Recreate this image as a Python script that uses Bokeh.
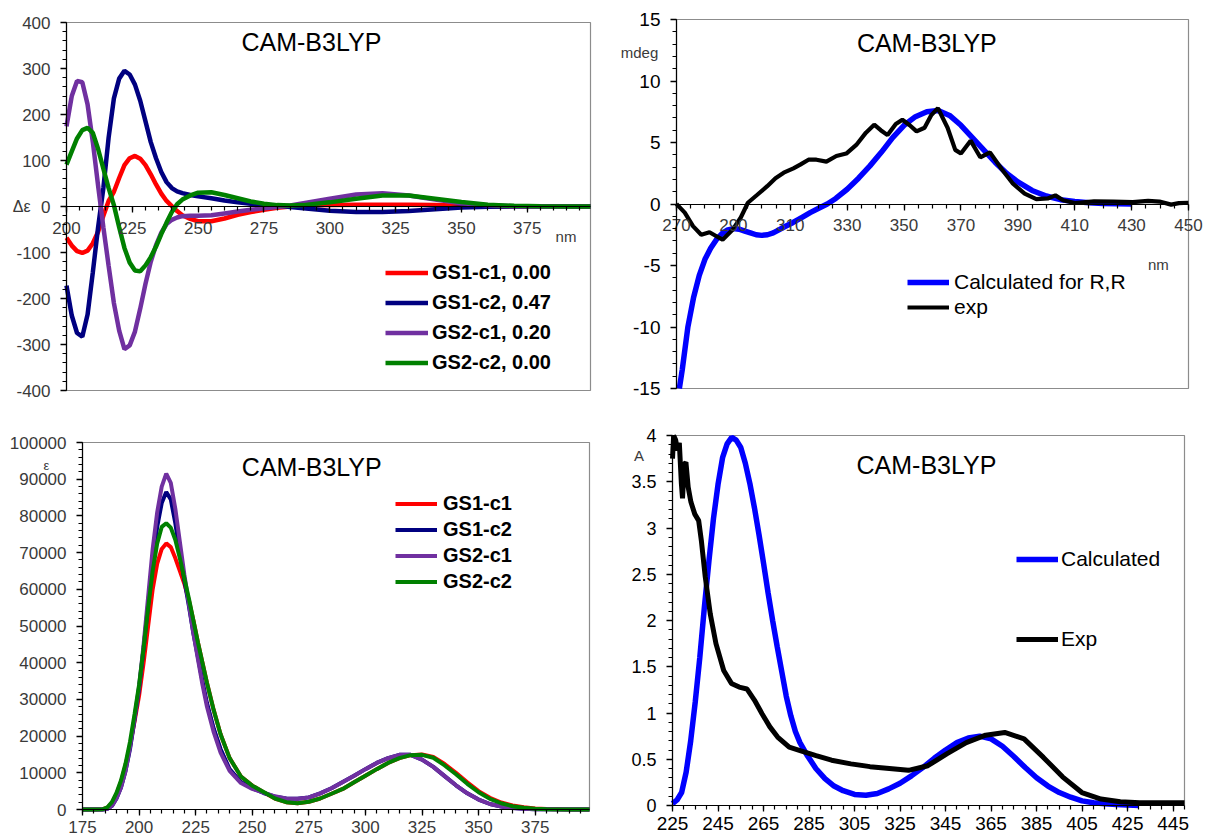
from bokeh.plotting import figure
from bokeh.models import (Range1d, FixedTicker, SingleIntervalTicker, NumeralTickFormatter,
                          Label, Legend, LegendItem)
from bokeh.core.properties import value
from bokeh.layouts import column, row
from bokeh.embed import file_html
from bokeh.resources import INLINE

FONT = "Liberation Sans"

# ---------------- top-left: calculated ECD (delta epsilon) ----------------
TL_XLIM, TL_YLIM = (200, 399), (-400, 400)
TL_NM = [200, 202, 204, 206, 208, 210, 212, 214, 216, 218, 220, 222, 224, 226, 228, 230,
         232, 234, 236, 238, 240, 242, 244, 247, 250, 255, 260, 265, 270, 275, 280, 285,
         290, 300, 310, 320, 330, 340, 350, 360, 370, 380, 390, 399]
TL_GS1_C1 = [-68, -85, -97, -101, -96, -80, -55, -20, 12, 32, 62, 90, 105, 110, 104, 90,
             70, 48, 28, 12, 1, -10, -19, -27, -32, -32, -26, -18, -12, -7, -3, 0,
             2, 3, 4, 4, 4, 3, 1.5, 0.5, 0, 0, 0, 0]
TL_GS1_C2 = [-172, -237, -275, -283, -235, -143, -45, 40, 150, 235, 278, 295, 287, 265, 230, 185,
             140, 105, 75, 53, 40, 33, 29, 25, 22, 18, 13, 9, 6, 4, 1.5, -1,
             -4, -9, -12, -12, -10, -6, -2, -0.5, 0, 0, 0, 0]
TL_GS2_C1 = [174, 240, 273, 270, 222, 140, 45, -45, -129, -210, -270, -310, -302, -272, -222, -168,
             -120, -84, -57, -38, -29, -24, -21, -20, -20, -19, -15, -11, -7, -4, -1, 2,
             7, 17, 26, 29, 24, 15, 7, 2.5, 0.8, 0.2, 0, 0]
TL_GS2_C2 = [91, 120, 148, 166, 171, 160, 125, 82, 40, 3, -45, -90, -122, -139, -141, -128,
             -110, -87, -60, -35, -12, 5, 15, 24, 30, 31, 25, 18, 11, 6, 3, 2,
             3, 9, 17, 24, 24, 17, 10, 4, 1.5, 0.5, 0, 0]
TL_LABELS = ["GS1-c1, 0.00", "GS1-c2, 0.47", "GS2-c1, 0.20", "GS2-c2, 0.00"]
TL_X_STEP, TL_Y_STEP = 25, 100

# ---------------- top-right: ECD calculated vs experimental (mdeg) ----------------
TR_XLIM, TR_YLIM = (270, 450), (-15, 15)
TR_CALC_NM = [271, 272, 274, 276, 278, 280, 282, 284, 286, 288, 290, 292, 294, 296, 298, 300,
              302, 304, 306, 308, 311, 314, 317, 320, 323, 326, 330, 334, 338, 342, 346, 350,
              354, 358, 362, 366, 370, 374, 378, 382, 386, 390, 395, 400, 405, 410, 415, 420, 430]
TR_CALC = [-15.0, -13.5, -10.0, -7.6, -5.8, -4.5, -3.6, -2.9, -2.4, -2.1, -2.0, -2.05, -2.2, -2.35, -2.5, -2.55,
           -2.5, -2.35, -2.1, -1.85, -1.5, -1.1, -0.7, -0.35, 0.0, 0.45, 1.2, 2.1, 3.1, 4.2, 5.4, 6.4,
           7.1, 7.5, 7.6, 7.2, 6.4, 5.4, 4.4, 3.4, 2.5, 1.8, 1.1, 0.65, 0.35, 0.2, 0.1, 0.05, 0.0]
TR_EXP_NM = [270, 272.9, 275.8, 278.7, 281.6, 283.9, 286.2, 289.7, 292.6, 295.1, 298.4, 301.9, 304.8,
             307.7, 311.1, 313.5, 316.4, 319.2, 322.7, 326.2, 329.7, 333.2, 336.6, 339.5, 341.8, 344.2,
             347.1, 349.4, 352, 354.4, 357.2, 359.5, 361.9, 365.3, 368, 370, 373.4, 376.8, 380.2, 384.3,
             388.3, 392.4, 396.5, 400.5, 403.2, 405.9, 410, 416.8, 423.6, 430.4, 435.8, 439.8, 443.9,
             446.6, 450]
TR_EXP = [0, -0.7, -1.8, -2.5, -2.3, -2.6, -2.9, -2.1, -1.1, 0.1, 0.75, 1.45, 2.1,
          2.55, 2.9, 3.2, 3.6, 3.6, 3.45, 3.9, 4.1, 4.8, 5.8, 6.45, 6.0, 5.6,
          6.5, 6.85, 6.4, 5.9, 6.2, 7.2, 7.8, 6.2, 4.4, 4.1, 5.15, 3.8, 4.2, 2.85,
          1.65, 0.85, 0.4, 0.45, 0.7, 0.3, 0.08, 0.22, 0.2, 0.15, 0.25, 0.2, -0.05,
          0.07, 0.1]
TR_LABELS = ["Calculated for R,R", "exp"]
TR_X_TICKS = [270, 290, 310, 330, 350, 370, 390, 410, 430, 450]
TR_Y_STEP = 5

# ---------------- bottom-left: calculated UV (epsilon) ----------------
BL_XLIM, BL_YLIM = (175, 399), (0, 100000)
BL_NM = [175, 180, 184, 186, 188, 190, 192, 194, 196, 198, 200, 202, 204, 206, 208, 210,
         212, 214, 216, 218, 220, 222, 224, 226, 228, 230, 233, 236, 240, 245, 250, 255,
         260, 265, 270, 275, 280, 285, 290, 295, 300, 305, 310, 315, 320, 325, 330, 335,
         340, 345, 350, 355, 360, 365, 370, 375, 380, 390, 399]
BL_GS1_C1 = [0, 0, 100, 500, 1800, 4200, 7500, 12000, 17500, 24000, 31000, 40000, 50000, 60000, 67000, 71000,
             72500, 71500, 68500, 65000, 61500, 57000, 51500, 45500, 40000, 34500, 27000, 20500, 14000, 9000, 6500, 4700,
             3000, 2000, 1700, 2100, 3000, 4300, 5600, 7400, 9200, 11000, 12700, 14000, 14800, 15000, 14300, 12400,
             10000, 7400, 5000, 3200, 1900, 1100, 600, 300, 150, 30, 0]
BL_GS1_C2 = [0, 0, 0, 200, 1000, 3000, 6000, 10500, 16500, 24500, 33000, 44000, 56000, 68000, 77000, 83500,
             86500, 84500, 78000, 70000, 62500, 55500, 48000, 41500, 35000, 29000, 22000, 16500, 11000, 7500, 5800, 4500,
             3500, 3000, 2900, 3300, 4400, 5800, 7500, 9200, 11000, 12700, 14000, 14900, 14900, 13600, 11600, 9100,
             6600, 4400, 2700, 1500, 800, 400, 200, 100, 50, 0, 0]
BL_GS2_C1 = [0, 0, 0, 200, 1000, 3000, 6000, 10500, 17000, 25000, 33500, 45000, 58000, 71000, 81000, 88000,
             91500, 89000, 82000, 73000, 64000, 56000, 48000, 41000, 34000, 28000, 21000, 15500, 10500, 7200, 5600, 4600,
             3600, 3000, 2900, 3300, 4400, 5800, 7500, 9200, 11000, 12700, 14000, 14900, 14900, 13600, 11600, 9100,
             6600, 4400, 2700, 1500, 800, 400, 200, 100, 50, 0, 0]
BL_GS2_C2 = [0, 0, 100, 600, 2000, 4500, 7900, 12500, 18500, 26000, 34000, 44000, 55000, 65000, 72500, 77000,
             78000, 76800, 73500, 68500, 63000, 57500, 51500, 45500, 40000, 34500, 27000, 20500, 14000, 9000, 6500, 4800,
             3000, 2000, 1700, 2100, 3000, 4300, 5600, 7400, 9200, 11000, 12700, 14000, 14800, 14900, 14100, 12000,
             9600, 7000, 4700, 2900, 1700, 900, 450, 200, 100, 20, 0]
BL_LABELS = ["GS1-c1", "GS1-c2", "GS2-c1", "GS2-c2"]
BL_X_STEP, BL_Y_STEP = 25, 10000

# ---------------- bottom-right: UV calculated vs experimental (A) ----------------
BR_XLIM, BR_YLIM = (225, 450), (0, 4)
BR_CALC_NM = [225, 227, 229, 231, 233, 235, 237, 239, 241, 243, 245, 247, 249, 251, 253, 255,
              257, 259, 261, 263, 265, 267, 269, 271, 273, 275, 277, 279, 281, 284, 288, 292,
              296, 300, 305, 310, 315, 320, 325, 330, 335, 340, 345, 350, 355, 360, 365, 370,
              375, 380, 385, 390, 395, 400, 405, 410, 415, 420, 430]
BR_CALC = [0.02, 0.06, 0.14, 0.36, 0.70, 1.12, 1.60, 2.14, 2.64, 3.10, 3.47, 3.76, 3.91, 3.98, 3.95, 3.87,
           3.70, 3.48, 3.22, 2.93, 2.62, 2.30, 2.00, 1.72, 1.45, 1.18, 0.97, 0.80, 0.68, 0.55, 0.40, 0.29,
           0.21, 0.16, 0.12, 0.11, 0.13, 0.18, 0.24, 0.32, 0.41, 0.51, 0.60, 0.68, 0.73, 0.75, 0.72, 0.64,
           0.53, 0.41, 0.30, 0.21, 0.14, 0.09, 0.05, 0.03, 0.02, 0.01, 0.0]
BR_EXP_NM = [225, 225.5, 226.4, 227.2, 228, 228.9, 229.4, 230.2, 230.9, 231.9, 233.1, 234.8, 236.5,
             237.7, 239.4, 241.6, 244.1, 247.5, 250.9, 254.3, 257.7, 261, 264.4, 267.8, 271.2, 276.3,
             281.4, 288.1, 294.9, 303.4, 311.8, 320.3, 328.7, 337.2, 345.7, 354.1, 362.6, 371, 379.5,
             388, 396.4, 404.9, 413.3, 421.8, 430.3, 450]
BR_EXP = [3.75, 4.0, 3.95, 3.84, 3.92, 3.48, 3.32, 3.69, 3.71, 3.44, 3.28, 3.15, 3.08,
          2.86, 2.47, 2.07, 1.75, 1.46, 1.32, 1.28, 1.26, 1.14, 0.99, 0.85, 0.74, 0.63,
          0.59, 0.54, 0.49, 0.45, 0.42, 0.40, 0.38, 0.43, 0.56, 0.68, 0.76, 0.79, 0.72,
          0.52, 0.31, 0.14, 0.07, 0.04, 0.03, 0.03]
BR_LABELS = ["Calculated", "Exp"]
BR_X_TICKS = [225, 245, 265, 285, 305, 325, 345, 365, 385, 405, 425, 445]
BR_Y_STEP = 0.5

TITLE = "CAM-B3LYP"
C_RED, C_NAVY, C_PURPLE, C_GREEN = "#FF0000", "#000080", "#7030A0", "#008000"
C_BLUE, C_BLACK = "#0000FF", "#000000"
LABEL_GREY = "#3a3a3a"


def make_fig(w, h, xlim, ylim, box):
    """Figure whose frame fills the whole canvas; box = plot-area (left, right, top, bottom) in px."""
    L, R, T, B = box
    sx = (R - L) / (xlim[1] - xlim[0])
    sy = (B - T) / (ylim[1] - ylim[0])
    xr = Range1d(xlim[0] - L / sx, xlim[1] + (w - R) / sx)
    yr = Range1d(ylim[0] - (h - B) / sy, ylim[1] + T / sy)
    p = figure(width=w, height=h, x_range=xr, y_range=yr,
               output_backend="svg", toolbar_location=None,
               min_border=0, min_border_left=0, min_border_right=0,
               min_border_top=0, min_border_bottom=0)
    p.grid.visible = False
    p.outline_line_alpha = 0
    p.background_fill_color = "white"
    p.border_fill_color = "white"
    # plot-area border (Excel style grey frame)
    p.quad(left=[xlim[0]], right=[xlim[1]], bottom=[ylim[0]], top=[ylim[1]],
           fill_alpha=0, line_color="#8c8c8c", line_width=1.2)
    for ax in (p.xaxis[0], p.yaxis[0]):
        ax.axis_line_color = "black"
        ax.axis_line_width = 1.2
        ax.major_tick_line_color = "black"
        ax.minor_tick_line_color = "black"
        ax.major_tick_line_width = 1.3
        ax.minor_tick_line_width = 1.2
        ax.major_tick_in = 0
        ax.minor_tick_in = 0
        ax.major_tick_out = 6
        ax.minor_tick_out = 4
        ax.major_label_text_font = FONT
    p.yaxis.fixed_location = xlim[0]
    p.yaxis.bounds = ylim
    p.xaxis.fixed_location = 0
    p.xaxis.bounds = xlim
    return p


def style_axes(p, xticker, yticker, xfmt, yfmt, xsize, ysize, xcolor, ycolor, xstand, ystand):
    p.xaxis.ticker = xticker
    p.yaxis.ticker = yticker
    p.xaxis.formatter = NumeralTickFormatter(format=xfmt)
    p.yaxis.formatter = NumeralTickFormatter(format=yfmt)
    p.xaxis.major_label_text_font_size = xsize
    p.yaxis.major_label_text_font_size = ysize
    p.xaxis.major_label_text_color = xcolor
    p.yaxis.major_label_text_color = ycolor
    p.xaxis.major_label_standoff = xstand
    p.yaxis.major_label_standoff = ystand


def label(p, x, y, text, size, color="black", align="center"):
    p.add_layout(Label(x=x, y=y, text=text, text_font=FONT, text_font_size=size,
                       text_color=color, text_align=align, text_baseline="middle"))


def legend(p, renderers, labels, loc, gw, gh, sp, standoff, size, style):
    items = [LegendItem(label=value(t), renderers=[r]) for t, r in zip(labels, renderers)]
    lg = Legend(items=items, location=loc, orientation="vertical", glyph_width=gw,
                glyph_height=gh, label_height=gh, spacing=sp, label_standoff=standoff,
                padding=0, margin=0, border_line_alpha=0, background_fill_alpha=0,
                label_text_font=FONT, label_text_font_size=size,
                label_text_font_style=style, label_text_color="black")
    p.add_layout(lg)


# ---- top-left ----
p1 = make_fig(603, 420, TL_XLIM, TL_YLIM, (66, 590, 22, 390))
style_axes(p1, SingleIntervalTicker(interval=TL_X_STEP, num_minor_ticks=5),
           SingleIntervalTicker(interval=TL_Y_STEP, num_minor_ticks=5),
           "0", "0", "17px", "17px", LABEL_GREY, LABEL_GREY, 9, 10)
r = []
for ys, c in zip([TL_GS1_C1, TL_GS1_C2, TL_GS2_C1, TL_GS2_C2], [C_RED, C_NAVY, C_PURPLE, C_GREEN]):
    r.append(p1.line(TL_NM, ys, line_color=c, line_width=4.5))
legend(p1, r, TL_LABELS, (385, 46), 43, 23, 7, 4, "20px", "bold")
label(p1, 293, 358, TITLE, "25px")
label(p1, 389.7, -66, "nm", "15px", LABEL_GREY)
label(p1, 183, 0, "Δε", "16px", LABEL_GREY)

# ---- top-right ----
p2 = make_fig(604, 420, TR_XLIM, TR_YLIM, (73, 585, 19, 388))
style_axes(p2, FixedTicker(ticks=TR_X_TICKS, minor_ticks=list(range(270, 451, 5))),
           SingleIntervalTicker(interval=TR_Y_STEP, num_minor_ticks=5),
           "0", "0", "17px", "19px", LABEL_GREY, "black", 9, 10)
rb = p2.line(TR_CALC_NM, TR_CALC, line_color=C_BLUE, line_width=5.5)
rk = p2.line(TR_EXP_NM, TR_EXP, line_color=C_BLACK, line_width=4.2)
legend(p2, [rb, rk], TR_LABELS, (304, 101), 42, 24, 1, 5, "21px", "normal")
label(p2, 358, 13.13, TITLE, "25px")
label(p2, 257, 12.3, "mdeg", "15px", LABEL_GREY)
label(p2, 439.4, -4.9, "nm", "15px", LABEL_GREY)

# ---- bottom-left ----
p3 = make_fig(603, 420, BL_XLIM, BL_YLIM, (82, 589, 22, 389))
style_axes(p3, SingleIntervalTicker(interval=BL_X_STEP, num_minor_ticks=5),
           SingleIntervalTicker(interval=BL_Y_STEP, num_minor_ticks=5),
           "0", "0", "17px", "17px", LABEL_GREY, LABEL_GREY, 5, 10)
r = []
for ys, c in zip([BL_GS1_C1, BL_GS1_C2, BL_GS2_C1, BL_GS2_C2], [C_RED, C_NAVY, C_PURPLE, C_GREEN]):
    r.append(p3.line(BL_NM, ys, line_color=c, line_width=4))
legend(p3, r, BL_LABELS, (395, 247), 42, 23, 3, 6, "20px", "bold")
label(p3, 276.3, 93400, TITLE, "25px")
label(p3, 159, 93800, "ε", "13px", LABEL_GREY)

# ---- bottom-right ----
p4 = make_fig(604, 420, BR_XLIM, BR_YLIM, (69, 581, 15, 385))
style_axes(p4, FixedTicker(ticks=BR_X_TICKS, minor_ticks=list(range(225, 451, 5))),
           SingleIntervalTicker(interval=BR_Y_STEP, num_minor_ticks=5),
           "0", "0.[0]", "19px", "18px", "black", "black", 5, 10)
rb = p4.line(BR_CALC_NM, BR_CALC, line_color=C_BLUE, line_width=5.5)
rk = p4.line(BR_EXP_NM, BR_EXP, line_color=C_BLACK, line_width=5)
legend(p4, [rb, rk], BR_LABELS, (413, 189), 42, 24, 56, 3, "21px", "normal")
label(p4, 336.6, 3.676, TITLE, "25px")
label(p4, 210.3, 3.78, "A", "15px", LABEL_GREY)

layout = column(row(p1, p2), row(p3, p4))
open("out.html", "w").write(file_html(layout, INLINE))
